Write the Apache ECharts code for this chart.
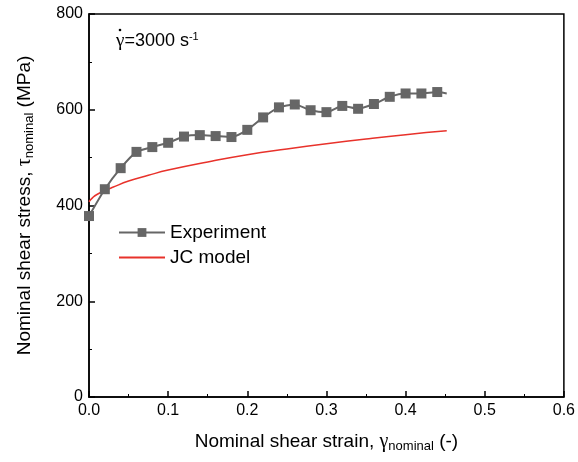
<!DOCTYPE html>
<html>
<head>
<meta charset="utf-8">
<script src="https://cdn.jsdelivr.net/npm/echarts@6/dist/echarts.min.js"></script>
<style>
  html, body { margin: 0; padding: 0; background: #fff; }
  #chart { width: 578px; height: 462px; }
</style>
</head>
<body>
<div id="chart"></div>
<script>
  // experiment
  var expStrain = [0, 0.02, 0.04, 0.06, 0.08, 0.10, 0.12, 0.14, 0.16, 0.18, 0.20, 0.22,
    0.24, 0.26, 0.28, 0.30, 0.32, 0.34, 0.36, 0.38, 0.40, 0.42, 0.44, 0.452];
  var expStress = [378, 434, 478, 512, 522, 531, 544, 547, 545, 543, 558, 584,
    605, 611, 599, 595, 608, 602, 612, 627, 634, 634, 637, 634];

  // JC model curve
  var jcStrain = [0, 0.005, 0.01, 0.02, 0.03, 0.05, 0.075, 0.10, 0.15, 0.20, 0.25, 0.30, 0.35, 0.40, 0.452];
  var jcStress = [408, 417, 423, 431, 438, 451, 463, 474, 491, 506, 518, 529, 539, 548, 556];

  var font = "Liberation Sans";
  var serif = "Liberation Serif";

  function pairs(xs, ys) {
    return xs.map(function (x, i) { return [x, ys[i]]; });
  }

  var expData = pairs(expStrain, expStress);
  // last point is only the line end, no marker
  expData[expData.length - 1] = { value: expData[expData.length - 1], symbol: "none" };

  var nameRich = {
    g: { fontFamily: serif, fontSize: 20, color: "#000" },
    s: { fontFamily: font, fontSize: 13, color: "#000", padding: [10, 0, 0, 0] }
  };

  var chart = echarts.init(document.getElementById("chart"));
  chart.setOption({
    animation: false,
    textStyle: { fontFamily: font },
    grid: {
      left: 89,
      right: 13,
      top: 14,
      bottom: 65,
      show: true,
      borderColor: "#000",
      borderWidth: 1.5
    },
    legend: {
      left: 113,
      top: 218,
      orient: "vertical",
      itemWidth: 46,
      itemHeight: 11,
      itemGap: 6,
      textStyle: { fontFamily: font, fontSize: 19, color: "#000" },
      data: [
        "Experiment",
        { name: "JC model", itemStyle: { opacity: 0 } }
      ]
    },
    xAxis: {
      type: "value",
      min: 0,
      max: 0.6,
      interval: 0.1,
      name: "Nominal shear strain, {g|γ}{s|nominal} (-)",
      nameLocation: "middle",
      nameGap: 33,
      nameTextStyle: { fontFamily: font, fontSize: 19, color: "#000", rich: nameRich },
      axisLine: { lineStyle: { color: "#000", width: 1.5 } },
      axisTick: { inside: true, length: 6, lineStyle: { color: "#000", width: 1.5 } },
      minorTick: { show: true, splitNumber: 2, length: 3, lineStyle: { color: "#000", width: 1 } },
      axisLabel: {
        fontFamily: font,
        fontSize: 16,
        color: "#000",
        margin: 6,
        formatter: function (v) { return v.toFixed(1); }
      },
      splitLine: { show: false }
    },
    yAxis: {
      type: "value",
      min: 0,
      max: 800,
      interval: 200,
      name: "Nominal shear stress, {g|τ}{s|nominal} (MPa)",
      nameLocation: "middle",
      nameGap: 53,
      nameRotate: 90,
      nameTextStyle: { fontFamily: font, fontSize: 19, color: "#000", rich: nameRich },
      axisLine: { show: true, lineStyle: { color: "#000", width: 1.5 } },
      axisTick: { show: true, inside: true, length: 6, lineStyle: { color: "#000", width: 1.5 } },
      minorTick: { show: true, splitNumber: 2, length: 3, lineStyle: { color: "#000", width: 1 } },
      axisLabel: { fontFamily: font, fontSize: 16, color: "#000", margin: 6 },
      splitLine: { show: false }
    },
    graphic: [
      {
        type: "text",
        left: 116,
        top: 31,
        style: {
          text: "{g|γ}{a|=3000 s}{b|-1}",
          rich: {
            g: { fontFamily: serif, fontSize: 19, fill: "#000" },
            a: { fontFamily: font, fontSize: 18, fill: "#000" },
            b: { fontFamily: font, fontSize: 11, fill: "#000", padding: [0, 0, 10, 0] }
          }
        }
      },
      {
        type: "circle",
        shape: { cx: 120, cy: 30, r: 1.3 },
        style: { fill: "#000" }
      }
    ],
    series: [
      {
        name: "Experiment",
        type: "line",
        data: expData,
        smooth: 0.2,
        symbol: "rect",
        symbolSize: 10,
        showAllSymbol: true,
        lineStyle: { color: "#666", width: 2 },
        itemStyle: { color: "#666" },
        z: 3
      },
      {
        name: "JC model",
        type: "line",
        data: pairs(jcStrain, jcStress),
        smooth: true,
        symbol: "none",
        lineStyle: { color: "#e8322b", width: 1.5 },
        itemStyle: { color: "#e8322b" },
        z: 2
      }
    ]
  });
</script>
</body>
</html>
